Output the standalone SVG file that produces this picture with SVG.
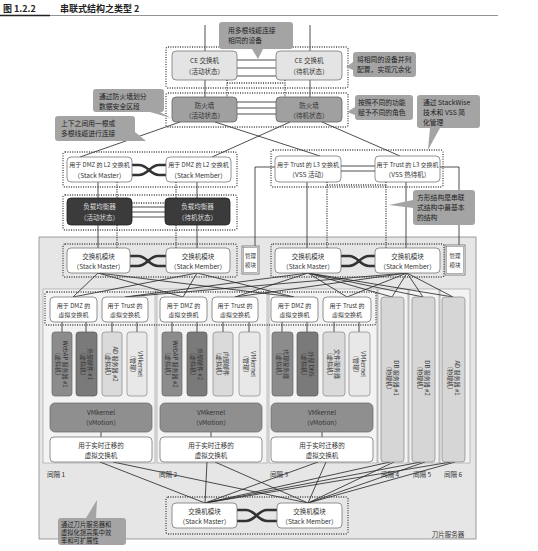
<svg xmlns="http://www.w3.org/2000/svg" width="538" height="551" viewBox="0 0 538 551">
<style>
.t{font-family:"Noto Sans CJK SC","Noto Sans",sans-serif;font-size:6.5px;fill:#333;text-anchor:middle}
.tl{font-family:"Noto Sans CJK SC","Noto Sans",sans-serif;font-size:6.8px;fill:#222}
.tw{fill:#ddd}
.box{fill:#fff;stroke:#777;stroke-width:0.8}
.ce{fill:#e4e4e4;stroke:#777;stroke-width:0.8}
.fw{fill:#a0a0a0;stroke:#666;stroke-width:0.8}
.lb{fill:#3b3b3b;stroke:#222;stroke-width:0.8}
.vd{fill:#8c8c8c;stroke:#666;stroke-width:0.7}
.vd2{fill:#7a7a7a;stroke:#555;stroke-width:0.7}
.vl{fill:#dadada;stroke:#888;stroke-width:0.7}
.vl2{fill:#e8e8e8;stroke:#888;stroke-width:0.7}
.vm{fill:#8f8f8f;stroke:#666;stroke-width:0.7}
.ph{fill:#d6d6d6;stroke:#888;stroke-width:0.7}
.co{fill:#a4a4a4}
.ln{stroke:#222;stroke-width:0.8;fill:none}
.dot{stroke:#333;stroke-width:1.3;stroke-dasharray:1 1.4;fill:none}
.grp{fill:none;stroke:#444;stroke-width:1.3;stroke-dasharray:1 1.4}
.stk{stroke:#333;stroke-width:2.6;fill:none}
.slot{fill:#f3f3f3;stroke:#999;stroke-width:0.6}
</style>

<g id="title">
<text x="3" y="12" style="font-family:'Noto Sans CJK SC',sans-serif;font-size:9px;font-weight:bold;fill:#222">图 1.2.2</text>
<text x="60" y="12" style="font-family:'Noto Sans CJK SC',sans-serif;font-size:9px;font-weight:bold;fill:#222">串联式结构之类型 2</text>
<line x1="0" y1="15.5" x2="498" y2="15.5" stroke="#777" stroke-width="0.8"/>
<line x1="0" y1="15.5" x2="50" y2="15.5" stroke="#222" stroke-width="1.6"/>
</g>

<g id="blade">
<rect x="39" y="237" width="437" height="302" fill="#e6e6e6" stroke="#888" stroke-width="0.8"/>
<rect class="slot" x="43" y="289" width="112" height="174"/>
<rect class="slot" x="157" y="289" width="110" height="174"/>
<rect class="slot" x="269" y="289" width="108" height="174"/>
<rect class="slot" x="378" y="289" width="30" height="174"/>
<rect class="slot" x="409" y="289" width="30" height="174"/>
<rect class="slot" x="440" y="289" width="30" height="174"/>
<text class="t" x="56" y="477">间隔 1</text>
<text class="t" x="168" y="477">间隔 2</text>
<text class="t" x="279" y="477">间隔 3</text>
<text class="t" x="390" y="477">间隔 4</text>
<text class="t" x="422" y="477">间隔 5</text>
<text class="t" x="453" y="477">间隔 6</text>
<text class="t" x="448" y="537">刀片服务器</text>
</g>

<g id="connectors">
<line class="ln" x1="205" y1="25" x2="205" y2="51"/>
<line class="ln" x1="310" y1="25" x2="310" y2="51"/>
<line class="ln" x1="205" y1="80" x2="205" y2="97"/>
<line class="ln" x1="310" y1="80" x2="310" y2="97"/>
<line class="ln" x1="237" y1="60" x2="276" y2="60"/>
<line class="ln" x1="237" y1="68" x2="276" y2="68"/>
<line class="ln" x1="237" y1="76" x2="276" y2="76"/>
<line class="ln" x1="237" y1="102" x2="276" y2="102"/>
<line class="ln" x1="237" y1="108" x2="276" y2="108"/>
<line class="ln" x1="237" y1="114" x2="276" y2="114"/>
<path class="dot" d="M227,80 V97 M285,80 V97 M227,83 H285"/>
<line class="ln" x1="180" y1="122" x2="80" y2="157"/>
<line class="ln" x1="215" y1="122" x2="320" y2="156"/>
<line class="ln" x1="290" y1="122" x2="212" y2="157"/>
<line class="ln" x1="322" y1="122" x2="400" y2="156"/>
<line class="ln" x1="98" y1="182" x2="98" y2="248"/>
<line class="ln" x1="197" y1="182" x2="197" y2="248"/>
<line class="ln" x1="307" y1="182" x2="307" y2="248"/>
<line class="ln" x1="406" y1="182" x2="406" y2="248"/>
<path class="dot" d="M117,182 V248 M176,182 V248 M117,203 H176"/>
<path class="dot" d="M327,182 V248 M386,182 V248 M327,185 H386"/>
<line class="ln" x1="132" y1="207" x2="165" y2="207"/>
<line class="ln" x1="132" y1="212" x2="165" y2="212"/>
<line class="ln" x1="132" y1="217" x2="165" y2="217"/>
<line class="ln" x1="341" y1="166" x2="375" y2="166"/>
<line class="ln" x1="341" y1="171" x2="375" y2="171"/>
<path class="ln" d="M275,167 H255 V246"/>
<path class="ln" d="M440,167 H459 V245"/>
<path class="stk" d="M132,165 H139 C148,165 150,175 159,175 H166 M132,175 H139 C148,175 150,165 159,165 H166"/>
<path class="stk" d="M130,256 H138 C147,256 149,266 158,266 H166 M130,266 H138 C147,266 149,256 158,256 H166"/>
<path class="stk" d="M341,256 H349 C358,256 360,266 369,266 H375 M341,266 H349 C358,266 360,256 369,256 H375"/>
<path class="stk" d="M237,510 H246 C255,510 258,521 267,521 H277 M237,521 H246 C255,521 258,510 267,510 H277"/>
<!-- upper mesh -->
<line class="ln" x1="98" y1="273" x2="73" y2="297"/>
<line class="ln" x1="98" y1="273" x2="183" y2="297"/>
<line class="ln" x1="98" y1="273" x2="294" y2="297"/>
<line class="ln" x1="197" y1="273" x2="73" y2="297"/>
<line class="ln" x1="197" y1="273" x2="183" y2="297"/>
<line class="ln" x1="197" y1="273" x2="294" y2="297"/>
<line class="ln" x1="308" y1="273" x2="125" y2="297"/>
<line class="ln" x1="308" y1="273" x2="235" y2="297"/>
<line class="ln" x1="308" y1="273" x2="347" y2="297"/>
<line class="ln" x1="308" y1="273" x2="392" y2="297"/>
<line class="ln" x1="308" y1="273" x2="423" y2="297"/>
<line class="ln" x1="308" y1="273" x2="453" y2="297"/>
<line class="ln" x1="407" y1="273" x2="125" y2="297"/>
<line class="ln" x1="407" y1="273" x2="235" y2="297"/>
<line class="ln" x1="407" y1="273" x2="347" y2="297"/>
<line class="ln" x1="407" y1="273" x2="392" y2="297"/>
<line class="ln" x1="407" y1="273" x2="423" y2="297"/>
<line class="ln" x1="407" y1="273" x2="453" y2="297"/>
<!-- vswitch to VM -->
<path class="ln" d="M62,322 V332 M86,322 V332 M112,322 V332 M137,322 V332 M172,322 V332 M197,322 V332 M223,322 V332 M249,322 V332 M282,322 V332 M307,322 V332 M334,322 V332 M359,322 V332"/>
<path class="ln" d="M101,432 V437 M211,432 V437 M322,432 V437"/>
<!-- lower mesh -->
<line class="ln" x1="100" y1="462" x2="205" y2="503"/>
<line class="ln" x1="113" y1="462" x2="308" y2="503"/>
<line class="ln" x1="207" y1="462" x2="205" y2="503"/>
<line class="ln" x1="215" y1="462" x2="308" y2="503"/>
<line class="ln" x1="318" y1="462" x2="205" y2="503"/>
<line class="ln" x1="326" y1="462" x2="308" y2="503"/>
<line class="ln" x1="390" y1="462" x2="205" y2="503"/>
<line class="ln" x1="394" y1="462" x2="308" y2="503"/>
<line class="ln" x1="421" y1="462" x2="205" y2="503"/>
<line class="ln" x1="425" y1="462" x2="308" y2="503"/>
<line class="ln" x1="451" y1="462" x2="205" y2="503"/>
<line class="ln" x1="455" y1="462" x2="308" y2="503"/>
</g>

<g id="groups">
<rect class="grp" x="166" y="47" width="182" height="41" rx="2"/>
<rect class="grp" x="166" y="93" width="182" height="34" rx="2"/>
<rect class="grp" x="63" y="152" width="174" height="35" rx="2"/>
<rect class="grp" x="63" y="195" width="174" height="35" rx="2"/>
<rect class="grp" x="271" y="150" width="172" height="37" rx="2"/>
<rect class="grp" x="63" y="244" width="174" height="33" rx="2"/>
<rect class="grp" x="271" y="244" width="173" height="33" rx="2"/>
<rect class="grp" x="45" y="292" width="331" height="33" rx="2"/>
<rect class="grp" x="166" y="497" width="182" height="37" rx="2"/>
</g>

<g id="ce-active"><rect class="ce" x="172" y="51" width="65" height="29" rx="4"/><text class="t" x="204.5" y="63">CE 交换机</text><text class="t" x="204.5" y="74">（活动状态）</text></g>
<g id="ce-standby"><rect class="ce" x="276" y="51" width="66" height="29" rx="4"/><text class="t" x="309" y="63">CE 交换机</text><text class="t" x="309" y="74">（待机状态）</text></g>
<g id="fw-active"><rect class="fw" x="172" y="97" width="65" height="25" rx="4"/><text class="t" x="204.5" y="107.5">防火墙</text><text class="t" x="204.5" y="117.5">（活动状态）</text></g>
<g id="fw-standby"><rect class="fw" x="276" y="97" width="66" height="25" rx="4"/><text class="t" x="309" y="107.5">防火墙</text><text class="t" x="309" y="117.5">（待机状态）</text></g>

<g id="l2-master"><rect class="box" x="67" y="157" width="65" height="25" rx="4"/><text class="t" x="99.5" y="167" style="font-size:6px">用于 DMZ 的 L2 交换机</text><text class="t" x="99.5" y="177.5">（Stack Master）</text></g>
<g id="l2-member"><rect class="box" x="166" y="157" width="65" height="25" rx="4"/><text class="t" x="198.5" y="167" style="font-size:6px">用于 DMZ 的 L2 交换机</text><text class="t" x="198.5" y="177.5">（Stack Member）</text></g>
<g id="l3-active"><rect class="box" x="275" y="156" width="66" height="26" rx="4"/><text class="t" x="308" y="166.5" style="font-size:6px">用于 Trust 的 L3 交换机</text><text class="t" x="308" y="177">（VSS 活动）</text></g>
<g id="l3-standby"><rect class="box" x="375" y="156" width="65" height="26" rx="4"/><text class="t" x="407.5" y="166.5" style="font-size:6px">用于 Trust 的 L3 交换机</text><text class="t" x="407.5" y="177">（VSS 热待机）</text></g>

<g id="lb-active"><rect class="lb" x="67" y="198" width="65" height="27" rx="4"/><text class="t tw" x="99.5" y="209">负载均衡器</text><text class="t tw" x="99.5" y="219.5">（活动状态）</text></g>
<g id="lb-standby"><rect class="lb" x="165" y="198" width="65" height="27" rx="4"/><text class="t tw" x="197.5" y="209">负载均衡器</text><text class="t tw" x="197.5" y="219.5">（待机状态）</text></g>

<g id="sw-master-l"><rect class="box" x="67" y="248" width="63" height="25" rx="4"/><text class="t" x="98.5" y="258.5">交换机模块</text><text class="t" x="98.5" y="268.5">（Stack Master）</text></g>
<g id="sw-member-l"><rect class="box" x="166" y="248" width="64" height="25" rx="4"/><text class="t" x="198" y="258.5">交换机模块</text><text class="t" x="198" y="268.5">（Stack Member）</text></g>
<g id="mgmt-l"><rect x="242" y="246" width="17" height="28" fill="#fff" stroke="#666" stroke-width="0.8"/><rect x="243.5" y="247.5" width="14" height="25" fill="none" stroke="#666" stroke-width="0.5"/><text class="t" x="250.5" y="258" style="font-size:5.5px">管理</text><text class="t" x="250.5" y="266.5" style="font-size:5.5px">模块</text></g>
<g id="sw-master-r"><rect class="box" x="275" y="248" width="66" height="25" rx="4"/><text class="t" x="308" y="258.5">交换机模块</text><text class="t" x="308" y="268.5">（Stack Master）</text></g>
<g id="sw-member-r"><rect class="box" x="375" y="248" width="65" height="25" rx="4"/><text class="t" x="407.5" y="258.5">交换机模块</text><text class="t" x="407.5" y="268.5">（Stack Member）</text></g>
<g id="mgmt-r"><rect x="445" y="245" width="20" height="30" fill="#fff" stroke="#666" stroke-width="0.8"/><rect x="446.5" y="246.5" width="17" height="27" fill="none" stroke="#666" stroke-width="0.5"/><text class="t" x="455" y="258" style="font-size:5.5px">管理</text><text class="t" x="455" y="266.5" style="font-size:5.5px">模块</text></g>

<g id="vsw-dmz-1"><rect class="box" x="50" y="297" width="47" height="25" rx="4"/><text class="t" x="73.5" y="307.5" style="font-size:6px">用于 DMZ 的</text><text class="t" x="73.5" y="317" style="font-size:6px">虚拟交换机</text></g>
<g id="vsw-trust-1"><rect class="box" x="102" y="297" width="46" height="25" rx="4"/><text class="t" x="125" y="307.5" style="font-size:6px">用于 Trust 的</text><text class="t" x="125" y="317" style="font-size:6px">虚拟交换机</text></g>
<g id="vsw-dmz-2"><rect class="box" x="160" y="297" width="47" height="25" rx="4"/><text class="t" x="183.5" y="307.5" style="font-size:6px">用于 DMZ 的</text><text class="t" x="183.5" y="317" style="font-size:6px">虚拟交换机</text></g>
<g id="vsw-trust-2"><rect class="box" x="212" y="297" width="46" height="25" rx="4"/><text class="t" x="235" y="307.5" style="font-size:6px">用于 Trust 的</text><text class="t" x="235" y="317" style="font-size:6px">虚拟交换机</text></g>
<g id="vsw-dmz-3"><rect class="box" x="271" y="297" width="47" height="25" rx="4"/><text class="t" x="294.5" y="307.5" style="font-size:6px">用于 DMZ 的</text><text class="t" x="294.5" y="317" style="font-size:6px">虚拟交换机</text></g>
<g id="vsw-trust-3"><rect class="box" x="323" y="297" width="48" height="25" rx="4"/><text class="t" x="347" y="307.5" style="font-size:6px">用于 Trust 的</text><text class="t" x="347" y="317" style="font-size:6px">虚拟交换机</text></g>

<g id="vm-webap1"><rect class="vd" x="52" y="332" width="20" height="64" rx="3"/><text class="t" transform="translate(62,364) rotate(90)" style="font-size:6px"><tspan x="0" y="-1">WebAP 服务器 #1</tspan><tspan x="0" y="6">（虚拟机）</tspan></text></g>
<g id="vm-mail1"><rect class="vd2" x="76" y="332" width="21" height="64" rx="3"/><text class="t" transform="translate(86.5,364) rotate(90)" style="font-size:6px"><tspan x="0" y="-1">外部邮件 #1</tspan><tspan x="0" y="6">（虚拟机）</tspan></text></g>
<g id="vm-ad2"><rect class="vl" x="102" y="332" width="20" height="64" rx="3"/><text class="t" transform="translate(112,364) rotate(90)" style="font-size:6px"><tspan x="0" y="-1">AD 服务器 #2</tspan><tspan x="0" y="6">（虚拟机）</tspan></text></g>
<g id="vm-kern1"><rect class="vl2" x="127" y="332" width="20" height="64" rx="3"/><text class="t" transform="translate(137,364) rotate(90)" style="font-size:6px"><tspan x="0" y="-1">VMkernel</tspan><tspan x="0" y="6">（管理）</tspan></text></g>
<g id="vm-webap2"><rect class="vd" x="162" y="332" width="20" height="64" rx="3"/><text class="t" transform="translate(172,364) rotate(90)" style="font-size:6px"><tspan x="0" y="-1">WebAP 服务器 #2</tspan><tspan x="0" y="6">（虚拟机）</tspan></text></g>
<g id="vm-mail2"><rect class="vd2" x="187" y="332" width="20" height="64" rx="3"/><text class="t" transform="translate(197,364) rotate(90)" style="font-size:6px"><tspan x="0" y="-1">外部邮件 #2</tspan><tspan x="0" y="6">（虚拟机）</tspan></text></g>
<g id="vm-inmail"><rect class="vl" x="213" y="332" width="20" height="64" rx="3"/><text class="t" transform="translate(223,364) rotate(90)" style="font-size:6px"><tspan x="0" y="-1">内部邮件</tspan><tspan x="0" y="6">（虚拟机）</tspan></text></g>
<g id="vm-kern2"><rect class="vl2" x="239" y="332" width="21" height="64" rx="3"/><text class="t" transform="translate(249.5,364) rotate(90)" style="font-size:6px"><tspan x="0" y="-1">VMkernel</tspan><tspan x="0" y="6">（管理）</tspan></text></g>
<g id="vm-proxy"><rect class="vd" x="272" y="332" width="21" height="64" rx="3"/><text class="t" transform="translate(282.5,364) rotate(90)" style="font-size:6px"><tspan x="0" y="-1">代理服务器</tspan><tspan x="0" y="6">（虚拟机）</tspan></text></g>
<g id="vm-dns"><rect class="vd2" x="297" y="332" width="21" height="64" rx="3"/><text class="t" transform="translate(307.5,364) rotate(90)" style="font-size:6px"><tspan x="0" y="-1">外部 DNS</tspan><tspan x="0" y="6">（虚拟机）</tspan></text></g>
<g id="vm-file"><rect class="vl" x="323" y="332" width="22" height="64" rx="3"/><text class="t" transform="translate(334,364) rotate(90)" style="font-size:6px"><tspan x="0" y="-1">文件服务器</tspan><tspan x="0" y="6">（虚拟机）</tspan></text></g>
<g id="vm-kern3"><rect class="vl2" x="349" y="332" width="21" height="64" rx="3"/><text class="t" transform="translate(359.5,364) rotate(90)" style="font-size:6px"><tspan x="0" y="-1">VMkernel</tspan><tspan x="0" y="6">（管理）</tspan></text></g>

<g id="pm-db1"><rect class="ph" x="381" y="297" width="23" height="165" rx="3"/><text class="t" transform="translate(392.5,378) rotate(90)" style="font-size:6px"><tspan x="0" y="-1">DB 服务器 #1</tspan><tspan x="0" y="6">（物理机）</tspan></text></g>
<g id="pm-db2"><rect class="ph" x="412" y="297" width="23" height="165" rx="3"/><text class="t" transform="translate(423.5,378) rotate(90)" style="font-size:6px"><tspan x="0" y="-1">DB 服务器 #2</tspan><tspan x="0" y="6">（物理机）</tspan></text></g>
<g id="pm-ad1"><rect class="ph" x="442" y="297" width="23" height="165" rx="3"/><text class="t" transform="translate(453.5,378) rotate(90)" style="font-size:6px"><tspan x="0" y="-1">AD 服务器 #1</tspan><tspan x="0" y="6">（物理机）</tspan></text></g>

<g id="vmotion-1"><rect class="vm" x="50" y="403" width="102" height="29" rx="5"/><text class="t" x="101" y="414.5">VMkernel</text><text class="t" x="101" y="425">（vMotion）</text></g>
<g id="vmotion-2"><rect class="vm" x="160" y="403" width="102" height="29" rx="5"/><text class="t" x="211" y="414.5">VMkernel</text><text class="t" x="211" y="425">（vMotion）</text></g>
<g id="vmotion-3"><rect class="vm" x="271" y="403" width="102" height="29" rx="5"/><text class="t" x="322" y="414.5">VMkernel</text><text class="t" x="322" y="425">（vMotion）</text></g>
<g id="lm-vsw-1"><rect class="box" x="50" y="437" width="102" height="25" rx="4"/><text class="t" x="101" y="447.5">用于实时迁移的</text><text class="t" x="101" y="457.5">虚拟交换机</text></g>
<g id="lm-vsw-2"><rect class="box" x="160" y="437" width="102" height="25" rx="4"/><text class="t" x="211" y="447.5">用于实时迁移的</text><text class="t" x="211" y="457.5">虚拟交换机</text></g>
<g id="lm-vsw-3"><rect class="box" x="271" y="437" width="102" height="25" rx="4"/><text class="t" x="322" y="447.5">用于实时迁移的</text><text class="t" x="322" y="457.5">虚拟交换机</text></g>

<g id="sw-master-b"><rect class="box" x="172" y="503" width="65" height="25" rx="4"/><text class="t" x="204.5" y="513.5">交换机模块</text><text class="t" x="204.5" y="523.5">（Stack Master）</text></g>
<g id="sw-member-b"><rect class="box" x="277" y="503" width="65" height="25" rx="4"/><text class="t" x="309.5" y="513.5">交换机模块</text><text class="t" x="309.5" y="523.5">（Stack Member）</text></g>

<g id="callouts">
<path class="co" d="M222,22 H290 Q293,22 293,25 V46 Q293,49 290,49 H263 L258,59 L252,49 H222 Q219,49 219,46 V25 Q219,22 222,22 Z"/>
<text class="tl" x="228" y="33">用多根线缆连接</text><text class="tl" x="228" y="43">相同的设备</text>
<path class="co" d="M356,52 H413 Q416,52 416,55 V74 Q416,77 413,77 H356 Q353,77 353,74 V70 L346,67 L353,62 V55 Q353,52 356,52 Z"/>
<text class="tl" x="357" y="62">将相同的设备并列</text><text class="tl" x="357" y="72">配置，实现冗余化</text>
<path class="co" d="M96,89 H161 Q164,89 164,92 V109 Q164,112 161,112 H160 L171,118 L150,112 H96 Q93,112 93,109 V92 Q93,89 96,89 Z"/>
<text class="tl" x="99" y="99">通过防火墙划分</text><text class="tl" x="99" y="109">数据安全区段</text>
<path class="co" d="M58,116 H132 Q135,116 135,119 V132 L146,141 L128,141 H58 Q55,141 55,138 V119 Q55,116 58,116 Z"/>
<text class="tl" x="61" y="126">上下之间用一根或</text><text class="tl" x="61" y="136">多根线缆进行连接</text>
<path class="co" d="M358,95 H410 Q413,95 413,98 V117 Q413,120 410,120 H358 Q355,120 355,117 V115 L347,112 L355,107 V98 Q355,95 358,95 Z"/>
<text class="tl" x="358" y="105">按照不同的功能</text><text class="tl" x="358" y="115">赋予不同的角色</text>
<path class="co" d="M420,95 H477 Q480,95 480,98 V125 Q480,128 477,128 H440 L428,150 L430,128 H420 Q417,128 417,125 V98 Q417,95 420,95 Z"/>
<text class="tl" x="423" y="105">通过 StackWise</text><text class="tl" x="423" y="115">技术和 VSS 简</text><text class="tl" x="423" y="125">化管理</text>
<path class="co" d="M416,190 H472 Q475,190 475,193 V222 Q475,225 472,225 H416 Q413,225 413,222 V208 L389,205 L413,200 V193 Q413,190 416,190 Z"/>
<text class="tl" x="417" y="200">方形结构是串联</text><text class="tl" x="417" y="210">式结构中最基本</text><text class="tl" x="417" y="220">的结构</text>
<path class="co" d="M61,518 H86 L97,500 L96,518 H123 Q126,518 126,521 V542 Q126,545 123,545 H61 Q58,545 58,542 V521 Q58,518 61,518 Z"/>
<text class="tl" x="61" y="527" style="font-size:6.3px">通过刀片服务器和</text><text class="tl" x="61" y="535" style="font-size:6.3px">虚拟化提高集中效</text><text class="tl" x="61" y="543" style="font-size:6.3px">率和可扩展性</text>
</g>
</svg>
